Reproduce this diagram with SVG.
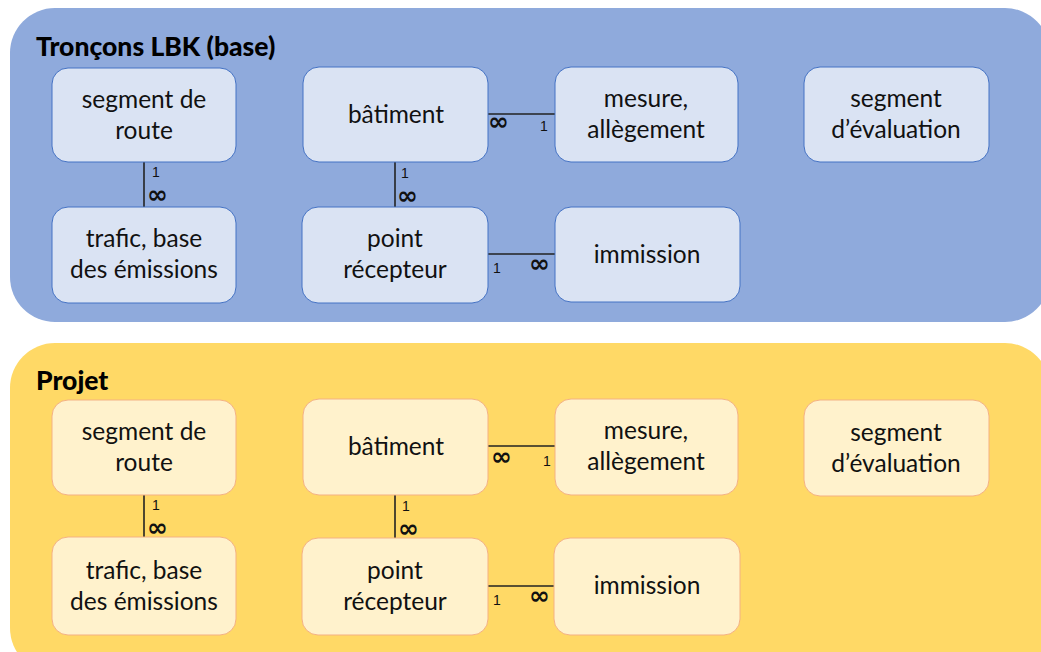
<svg xmlns="http://www.w3.org/2000/svg" width="1041" height="652" viewBox="0 0 1041 652">
<style>
.t{font-family:Lato,"Open Sans","Liberation Sans",sans-serif;font-size:24.5px;fill:#111;text-anchor:middle}
.h{font-family:Lato,"Open Sans","Liberation Sans",sans-serif;font-size:26.5px;font-weight:900;fill:#000}
.s{font-family:"Liberation Sans",sans-serif;font-size:14px;fill:#111}
.inf{font-family:"DejaVu Sans",sans-serif;font-size:25px;font-weight:bold;fill:#111}
.nb{fill:#DAE3F3;stroke:#4472C4;stroke-width:1}
.ny{fill:#FFF2CC;stroke:#F4B183;stroke-width:1}
.c{stroke:#222;stroke-width:1.6;fill:none}
</style>
<rect x="0" y="0" width="1041" height="652" fill="#fff"/>
<g id="base">
<rect x="10" y="8" width="1040" height="314" rx="45" fill="#8FAADC"/>
<text class="h" x="36" y="56">Tronçons LBK (base)</text>
</g>
<g id="projet">
<rect x="10" y="343" width="1040" height="330" rx="45" fill="#FFD966"/>
<text class="h" x="36" y="390">Projet</text>
</g>
<g id="connectors">
<line class="c" x1="144" y1="162" x2="144" y2="207"/>
<line class="c" x1="395" y1="162" x2="395" y2="207"/>
<line class="c" x1="488" y1="114" x2="555" y2="114"/>
<line class="c" x1="488" y1="254" x2="555" y2="254"/>
<text class="s" x="152" y="177">1</text><text class="inf" x="147" y="203">∞</text>
<text class="s" x="401" y="178">1</text><text class="inf" x="397" y="204">∞</text>
<text class="inf" x="488" y="130">∞</text><text class="s" x="540" y="131">1</text>
<text class="s" x="493" y="273">1</text><text class="inf" x="529" y="272">∞</text>
<line class="c" x1="144" y1="495" x2="144" y2="538"/>
<line class="c" x1="395" y1="495" x2="395" y2="538"/>
<line class="c" x1="488" y1="446" x2="555" y2="446"/>
<line class="c" x1="488" y1="586" x2="555" y2="586"/>
<text class="s" x="152" y="510">1</text><text class="inf" x="147" y="536">∞</text>
<text class="s" x="402" y="511">1</text><text class="inf" x="398" y="537">∞</text>
<text class="inf" x="491" y="465">∞</text><text class="s" x="543" y="466">1</text>
<text class="s" x="493" y="605">1</text><text class="inf" x="529" y="604">∞</text>
</g>
<g id="b-seg"><rect class="nb" x="52" y="68" width="184" height="94" rx="16"/><text class="t" x="144" y="108">segment de</text><text class="t" x="144" y="139">route</text></g>
<g id="b-trafic"><rect class="nb" x="52" y="207" width="184" height="96" rx="16"/><text class="t" x="144" y="247">trafic, base</text><text class="t" x="144" y="278">des émissions</text></g>
<g id="b-bat"><rect class="nb" x="303" y="67" width="185" height="95" rx="16"/><text class="t" x="396" y="123">bâtiment</text></g>
<g id="b-mes"><rect class="nb" x="555" y="67" width="183" height="95" rx="16"/><text class="t" x="646" y="107">mesure,</text><text class="t" x="646" y="138">allègement</text></g>
<g id="b-pt"><rect class="nb" x="302" y="207" width="186" height="96" rx="16"/><text class="t" x="395" y="247">point</text><text class="t" x="395" y="278">récepteur</text></g>
<g id="b-imm"><rect class="nb" x="555" y="207" width="185" height="95" rx="16"/><text class="t" x="647" y="263">immission</text></g>
<g id="b-eval"><rect class="nb" x="804" y="67" width="185" height="95" rx="16"/><text class="t" x="896" y="107">segment</text><text class="t" x="896" y="138">d’évaluation</text></g>
<g id="p-seg"><rect class="ny" x="52" y="400" width="184" height="95" rx="16"/><text class="t" x="144" y="440">segment de</text><text class="t" x="144" y="471">route</text></g>
<g id="p-trafic"><rect class="ny" x="52" y="537" width="184" height="98" rx="16"/><text class="t" x="144" y="579">trafic, base</text><text class="t" x="144" y="610">des émissions</text></g>
<g id="p-bat"><rect class="ny" x="303" y="399" width="185" height="96" rx="16"/><text class="t" x="396" y="455">bâtiment</text></g>
<g id="p-mes"><rect class="ny" x="555" y="399" width="183" height="96" rx="16"/><text class="t" x="646" y="439">mesure,</text><text class="t" x="646" y="470">allègement</text></g>
<g id="p-pt"><rect class="ny" x="302" y="538" width="186" height="97" rx="16"/><text class="t" x="395" y="579">point</text><text class="t" x="395" y="610">récepteur</text></g>
<g id="p-imm"><rect class="ny" x="554" y="538" width="186" height="97" rx="16"/><text class="t" x="647" y="594">immission</text></g>
<g id="p-eval"><rect class="ny" x="804" y="400" width="185" height="96" rx="16"/><text class="t" x="896" y="441">segment</text><text class="t" x="896" y="472">d’évaluation</text></g>
</svg>
